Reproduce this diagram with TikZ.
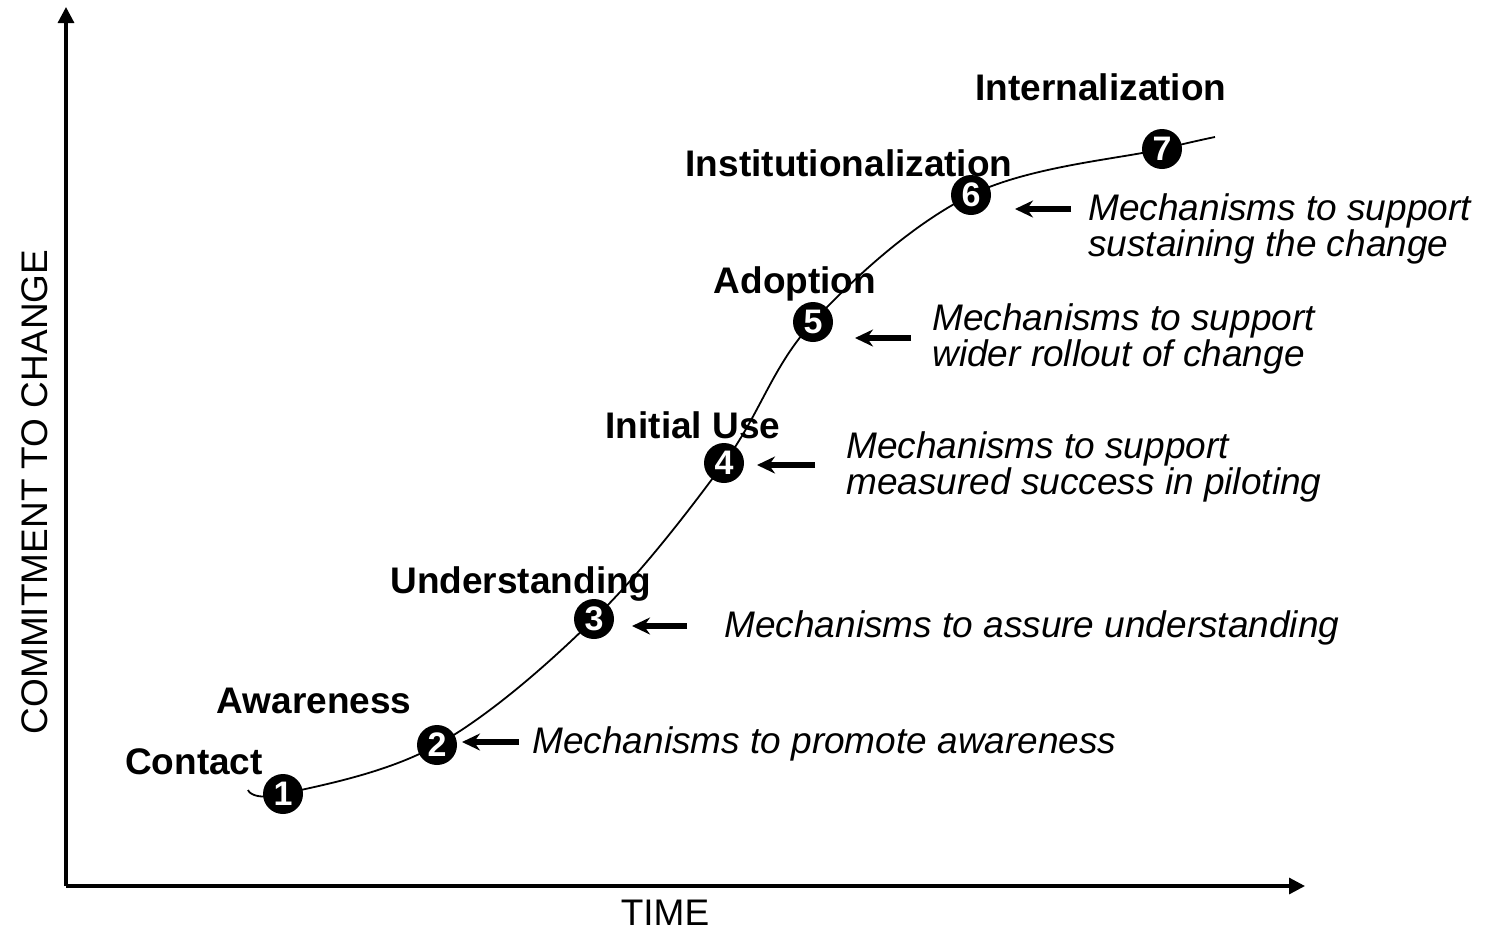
\documentclass[tikz,border=0pt]{standalone}
\usepackage{fontspec}
\setmainfont{Liberation Sans}
\usetikzlibrary{arrows.meta}

\tikzstyle{stage} = [circle,fill=black,text=white,inner sep=0pt,minimum size=20pt,font=\bfseries\fontsize{17}{17}\selectfont]
\tikzstyle{phase} = [anchor=base,inner sep=0pt,font=\bfseries\fontsize{18.5}{18.5}\selectfont]
\tikzstyle{mech} = [anchor=north west,align=left,inner sep=0pt,font=\itshape\fontsize{18.5}{16}\selectfont]
\tikzstyle{mecharrow} = [line width=3pt,-{Stealth[length=9pt,width=8.5pt,inset=3pt]}]
\tikzstyle{axis} = [line width=1.6pt,-{Triangle[length=8pt,width=8pt]}]

\begin{document}
\begin{tikzpicture}[x=0.5pt,y=-0.5pt]
	\useasboundingbox (0,0) rectangle (1486,933);
	% axes
	\coordinate (origin) at (66,886);
	\coordinate (ytip) at (66,7);
	\coordinate (xtip) at (1305,886);
	\draw [axis] (origin) -- (ytip);
	\draw [axis] (origin) -- (xtip);
	\node (ylabel) [rotate=90,font=\fontsize{18.5}{18.5}\selectfont] at (35,492) {COMMITMENT TO CHANGE};
	\node (xlabel) [font=\fontsize{18.5}{18.5}\selectfont] at (665,913) {TIME};
	% curve
	\coordinate (p0) at (248,790);
	\coordinate (p1) at (283,794);
	\coordinate (p2) at (437,745);
	\coordinate (p3) at (594,619);
	\coordinate (p4) at (724,463);
	\coordinate (p5) at (813,322);
	\coordinate (p6) at (971,195);
	\coordinate (p7) at (1162,149);
	\coordinate (p8) at (1215,137);
	\draw [line width=0.9pt] plot [smooth,tension=0.6] coordinates {(p0) (p1) (p2) (p3) (p4) (p5) (p6) (p7) (p8)};
	% stages
	\node (s1) [stage] at (p1) {1};
	\node (s2) [stage] at (p2) {2};
	\node (s3) [stage] at (p3) {3};
	\node (s4) [stage] at (p4) {4};
	\node (s5) [stage] at (p5) {5};
	\node (s6) [stage] at (p6) {6};
	\node (s7) [stage] at (p7) {7};
	% phase labels
	\node (contact) [phase] at (194,774) {Contact};
	\node (awareness) [phase] at (314,713) {Awareness};
	\node (understanding) [phase] at (521,593) {Understanding};
	\node (initialuse) [phase] at (693,438) {Initial Use};
	\node (adoption) [phase] at (795,293) {Adoption};
	\node (institution) [phase] at (849,176) {Institutionalization};
	\node (internal) [phase] at (1101,100) {Internalization};
	% mechanisms
	\node (m2) [mech] at (532,726) {Mechanisms to promote awareness};
	\node (m3) [mech] at (724,610) {Mechanisms to assure understanding};
	\node (m4) [mech] at (846,431) {Mechanisms to support\\measured success in piloting};
	\node (m5) [mech] at (932,303) {Mechanisms to support\\wider rollout of change};
	\node (m6) [mech] at (1088,193) {Mechanisms to support\\sustaining the change};
	% arrows
	\coordinate (t2) at (519,742); \coordinate (a2) at (462,742);
	\coordinate (t3) at (687,626); \coordinate (a3) at (632,626);
	\coordinate (t4) at (815,465); \coordinate (a4) at (757,465);
	\coordinate (t5) at (911,338); \coordinate (a5) at (855,338);
	\coordinate (t6) at (1071,209); \coordinate (a6) at (1015,209);
	\draw [mecharrow] (t2) -- (a2);
	\draw [mecharrow] (t3) -- (a3);
	\draw [mecharrow] (t4) -- (a4);
	\draw [mecharrow] (t5) -- (a5);
	\draw [mecharrow] (t6) -- (a6);
\end{tikzpicture}
\end{document}
